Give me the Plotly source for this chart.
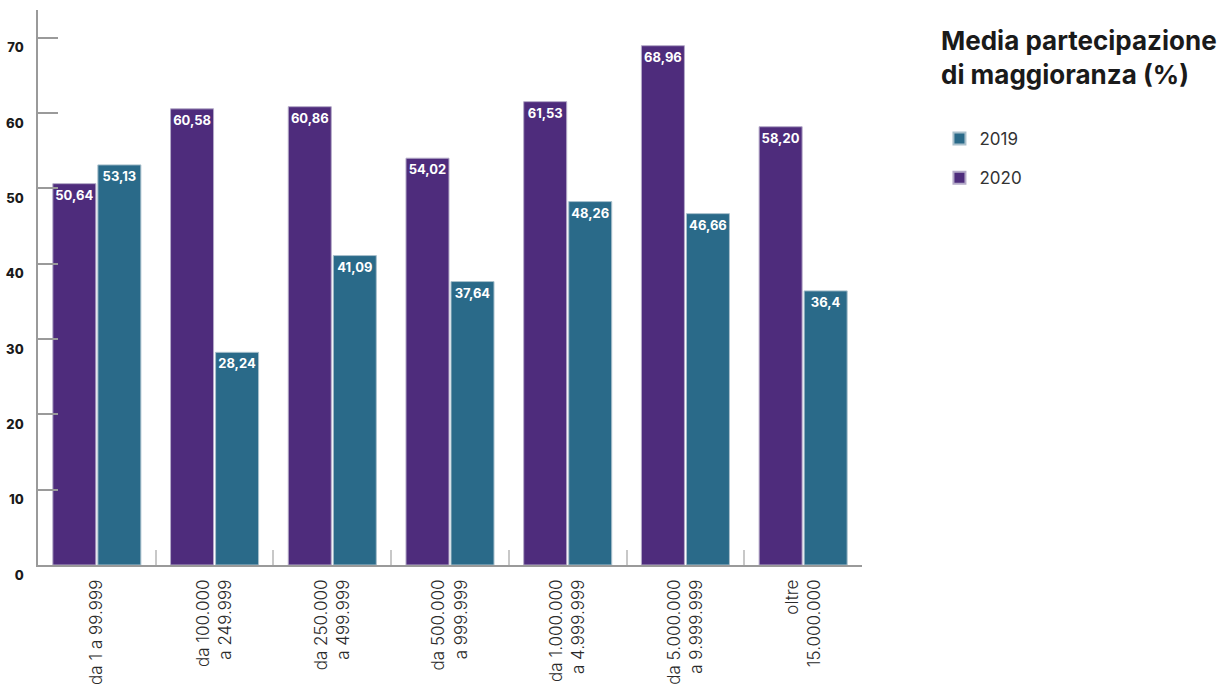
import plotly.graph_objects as go

# Fasce di fatturato (asse x) e valori medi della partecipazione di maggioranza
categories = [
    "da 1 a 99.999",
    "da 100.000<br>a 249.999",
    "da 250.000<br>a 499.999",
    "da 500.000<br>a 999.999",
    "da 1.000.000<br>a 4.999.999",
    "da 5.000.000<br>a 9.999.999",
    "oltre<br>15.000.000",
]
labels_2020 = ["50,64", "60,58", "60,86", "54,02", "61,53", "68,96", "58,20"]
labels_2019 = ["53,13", "28,24", "41,09", "37,64", "48,26", "46,66", "36,4"]
values_2020 = [float(s.replace(",", ".")) for s in labels_2020]
values_2019 = [float(s.replace(",", ".")) for s in labels_2019]
y_ticks = [0, 10, 20, 30, 40, 50, 60, 70]

PURPLE = "#4e2c7c"
TEAL = "#2a6a89"
AXIS = "#9a9a9a"

bar_text_font = dict(family="Inter", size=13, color="white", weight=700)

fig = go.Figure()
fig.add_trace(go.Bar(
    name="2020", x=categories, y=values_2020,
    text=labels_2020, textposition="inside", insidetextanchor="end",
    textangle=0, insidetextfont=bar_text_font, constraintext="none",
    marker=dict(color=PURPLE, line=dict(color="#b4aac8", width=1)),
    legendgroup="y2020", legendrank=2, hoverinfo="skip",
))
fig.add_trace(go.Bar(
    name="2019", x=categories, y=values_2019,
    text=labels_2019, textposition="inside", insidetextanchor="end",
    textangle=0, insidetextfont=bar_text_font, constraintext="none",
    marker=dict(color=TEAL, line=dict(color="#a9c0cc", width=1)),
    legendgroup="y2019", legendrank=1, hoverinfo="skip",
))

fig.update_layout(
    width=1230, height=690,
    margin=dict(l=38, r=368, t=10, b=125),
    paper_bgcolor="white", plot_bgcolor="white",
    barmode="group", bargap=0.235, bargroupgap=0.045,
    showlegend=True,
    legend=dict(
        x=1.094, y=0.80, xanchor="left", yanchor="top",
        traceorder="grouped", tracegroupgap=14,
        font=dict(family="Inter", size=17, color="#333333"),
        itemwidth=30, itemsizing="constant", bgcolor="rgba(0,0,0,0)",
    ),
    annotations=[dict(
        text="<b>Media partecipazione<br>di maggioranza (%)</b>",
        xref="paper", yref="paper", x=1.093, y=0.977,
        xanchor="left", yanchor="top", align="left", showarrow=False,
        font=dict(family="Inter", size=26, color="#1a1a1a", weight=800),
    )],
)

fig.update_yaxes(
    range=[0, 73.7], tickvals=y_ticks, ticktext=[str(v) for v in y_ticks],
    showgrid=False, zeroline=False, automargin=False,
    showline=True, linecolor=AXIS, linewidth=1.5,
    ticks="inside", ticklen=20, tickwidth=1.5, tickcolor=AXIS,
    tickfont=dict(family="Inter", size=13, color="#1a1a1a", weight=800),
    ticklabelshift=10, ticklabelstandoff=10,
)
fig.update_xaxes(
    showgrid=False, zeroline=False, automargin=False,
    showline=True, linecolor=AXIS, linewidth=1.5,
    tickson="boundaries", ticks="inside", ticklen=15, tickwidth=1.5, tickcolor="#c8c8c8",
    tickangle=-90, ticklabelstandoff=6,
    tickfont=dict(family="Inter", size=17, color="#2a2a2a", weight=300),
)

fig.write_html("out.html")
